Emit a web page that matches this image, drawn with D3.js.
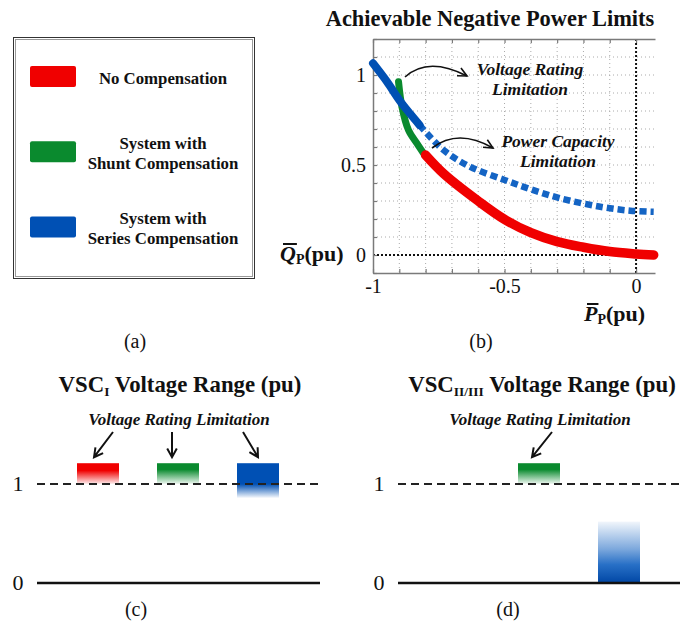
<!DOCTYPE html>
<meta charset="utf-8">
<head>
<script src="https://d3js.org/d3.v7.min.js"></script>
<style>
  body { margin: 0; background: #fff; }
  text { font-family: "Liberation Serif", "Times New Roman", serif; fill: #111; }
</style>
</head>
<body>
<div id="fig"></div>
<script>
// ---- values ----
var categories = ["none", "shunt", "series"];
var legendLabels = [["No Compensation"], ["System with", "Shunt Compensation"], ["System with", "Series Compensation"]];
var seriesColors = ["#f00000", "#0a8a2e", "#0050b4"];

// (b) achievable negative power limits, [P, Q] in pu
var noCompensation = [[-0.80, 0.555], [-0.73, 0.45], [-0.6, 0.30], [-0.5, 0.198], [-0.4, 0.124],
    [-0.3, 0.074], [-0.2, 0.043], [-0.1, 0.019], [0, 0.006], [0.067, 0.0]];
var shuntCompensation = [[-0.903, 0.963], [-0.89, 0.824], [-0.865, 0.694], [-0.833, 0.62], [-0.808, 0.565]];
var seriesVoltageLimit = [[-1.0, 1.065], [-0.947, 0.963], [-0.90, 0.861], [-0.858, 0.783], [-0.823, 0.722]];
var seriesPowerLimit = [[-0.823, 0.722], [-0.732, 0.583], [-0.63, 0.49], [-0.5, 0.417], [-0.4, 0.365],
    [-0.288, 0.315], [-0.136, 0.268], [-0.022, 0.246], [0.067, 0.240]];
var xTickLabels = [-1, -0.5, 0];
var yTickLabels = [0, 0.5, 1];

// (c), (d) voltage ranges [low, high] in pu, one per category
var vscIRange = [[1.0, 1.21], [1.0, 1.21], [0.86, 1.21]];
var vscIIRange = [null, [1.0, 1.21], [0, 0.62]];
var rangeTicks = [0, 1];

var svg = d3.select("#fig").append("svg")
    .attr("width", 680)
    .attr("height", 622);
var defs = svg.append("defs");

// vertical fades for the range bars
function fade(id, color, stops) {
    var g = defs.append("linearGradient").attr("id", id)
        .attr("x1", 0).attr("y1", 0).attr("x2", 0).attr("y2", 1);
    stops.forEach(function (s) {
        g.append("stop").attr("offset", s[0]).attr("stop-color", s[2] || color).attr("stop-opacity", s[1]);
    });
}
fade("fadeR", seriesColors[0], [[0, 1], [0.35, 1], [1, 0.06]]);
fade("fadeG", seriesColors[1], [[0, 1], [0.3, 1], [1, 0.06]]);
fade("fadeB", seriesColors[2], [[0, 1], [0.6, 1], [1, 0.04]]);
fade("riseB", "#1060c0", [[0, 0.06], [0.45, 0.55], [0.7, 0.9], [1, 1, "#0046a4"]]);

// ---------- (a) legend ----------
var legend = svg.append("g");
legend.append("rect").attr("x", 13.5).attr("y", 37.5).attr("width", 241).attr("height", 241)
    .attr("fill", "none").attr("stroke", "#333");
legend.append("rect").attr("x", 15.5).attr("y", 39.5).attr("width", 237).attr("height", 237)
    .attr("fill", "none").attr("stroke", "#999");

var ly = d3.scalePoint().domain(categories).range([76.5, 227]);
categories.forEach(function (c, i) {
    legend.append("rect")
        .attr("x", 30).attr("y", ly(c) - 10.5)
        .attr("width", 46).attr("height", 21).attr("rx", 2)
        .attr("fill", seriesColors[i]);
    var lines = legendLabels[i];
    var t = legend.append("text")
        .attr("text-anchor", "middle")
        .attr("font-weight", "bold")
        .attr("font-size", 16.8);
    lines.forEach(function (s, j) {
        t.append("tspan")
            .attr("x", 163)
            .attr("y", ly(c) + 7.5 - 10.5 * (lines.length - 1) + 20 * j)
            .text(s);
    });
});

// ---------- (b) power limits ----------
var x = d3.scaleLinear().domain([-1, 0.072]).range([373, 655]);
var y = d3.scaleLinear().domain([-0.1, 1.2]).range([273, 39]);
var tenths = function (a, b) { return d3.range(a, b + 1).map(function (d) { return d / 10; }); };

svg.append("text")
    .attr("x", 490).attr("y", 26)
    .attr("text-anchor", "middle")
    .attr("font-weight", "bold")
    .attr("font-size", 22.4)
    .text("Achievable Negative Power Limits");

var grid = svg.append("g");
grid.selectAll(".vg").data(tenths(-9, 0)).enter().append("line")
    .attr("x1", function (d) { return x(d); }).attr("x2", function (d) { return x(d); })
    .attr("y1", y(1.2)).attr("y2", y(-0.1))
    .attr("stroke", function (d) { return d === 0 ? "#111" : "#aaa"; })
    .attr("stroke-width", function (d) { return d === 0 ? 2 : 1; })
    .attr("stroke-dasharray", function (d) { return d === 0 ? "2,2" : "1,3"; });
grid.selectAll(".hg").data(tenths(0, 11)).enter().append("line")
    .attr("x1", x(-1)).attr("x2", x(0.072))
    .attr("y1", function (d) { return y(d); }).attr("y2", function (d) { return y(d); })
    .attr("stroke", function (d) { return d === 0 ? "#111" : "#aaa"; })
    .attr("stroke-width", function (d) { return d === 0 ? 2 : 1; })
    .attr("stroke-dasharray", function (d) { return d === 0 ? "2,2" : "1,3"; });

// axes: minor inward ticks every 0.1, labels only on a few
function styleAxis(g) {
    g.select(".domain").attr("stroke", "#7a7a7a").attr("stroke-width", 1.5);
    g.selectAll(".tick line").attr("stroke", "#7a7a7a").attr("stroke-width", 1.2);
    g.selectAll(".tick text").attr("font-family", "Liberation Serif").attr("font-size", 20).attr("fill", "#222");
}
var labelIf = function (list) {
    return function (d) { return list.some(function (v) { return Math.abs(v - d) < 1e-6; }) ? String(+d.toFixed(1)) : ""; };
};
svg.append("g").attr("transform", "translate(0," + y(-0.1) + ")")
    .call(d3.axisBottom(x).tickValues(tenths(-10, 0)).tickSizeInner(-4).tickSizeOuter(0)
        .tickPadding(6).tickFormat(labelIf(xTickLabels)))
    .call(styleAxis);
svg.append("g").attr("transform", "translate(0," + y(1.2) + ")")
    .call(d3.axisTop(x).tickValues(tenths(-10, 0)).tickSizeInner(-4).tickSizeOuter(0).tickFormat(""))
    .call(styleAxis);
svg.append("g").attr("transform", "translate(" + x(-1) + ",0)")
    .call(d3.axisLeft(y).tickValues(tenths(-1, 12)).tickSizeInner(-4).tickSizeOuter(0)
        .tickPadding(7).tickFormat(labelIf(yTickLabels)))
    .call(styleAxis);

// curves
var line = d3.line()
    .x(function (d) { return x(d[0]); })
    .y(function (d) { return y(d[1]); })
    .curve(d3.curveCatmullRom.alpha(0.5));
var curves = svg.append("g").attr("fill", "none");
curves.append("path").datum(shuntCompensation).attr("d", line)
    .attr("stroke", seriesColors[1]).attr("stroke-width", 7).attr("stroke-linecap", "round");
curves.append("path").datum(noCompensation).attr("d", line)
    .attr("stroke", seriesColors[0]).attr("stroke-width", 9.5).attr("stroke-linecap", "round");
curves.append("path").datum(seriesPowerLimit).attr("d", line)
    .attr("stroke", "#1464c4").attr("stroke-width", 6.5).attr("stroke-dasharray", "7,4");
curves.append("path").datum(seriesVoltageLimit).attr("d", line)
    .attr("stroke", seriesColors[2]).attr("stroke-width", 8).attr("stroke-linecap", "round");

// curved call-out arrows
function curvedArrow(p0, p1, p2) {
    var g = svg.append("g").attr("fill", "none").attr("stroke", "#111").attr("stroke-width", 1.6);
    g.append("path").attr("d", "M" + p0 + "Q" + p1 + " " + p2);
    var a = Math.atan2(p2[1] - p1[1], p2[0] - p1[0]);
    var h = 10, s = 0.45;
    g.append("path").attr("d",
        "M" + [p2[0] - h * Math.cos(a - s), p2[1] - h * Math.sin(a - s)] +
        "L" + p2 +
        "L" + [p2[0] - h * Math.cos(a + s), p2[1] - h * Math.sin(a + s)]);
}
curvedArrow([405, 77], [428, 56], [467, 76]);
curvedArrow([432, 148], [458, 128], [493, 148]);

function note(cx, y0, lines, size) {
    var t = svg.append("text").attr("text-anchor", "middle")
        .attr("font-weight", "bold").attr("font-style", "italic").attr("font-size", size);
    lines.forEach(function (s, j) {
        t.append("tspan").attr("x", cx).attr("y", y0 + 19.5 * j).text(s);
    });
}
note(530, 75, ["Voltage Rating", "Limitation"], 17.5);
note(558, 147, ["Power Capacity", "Limitation"], 17.5);

// axis titles with an overbar on the letter
function barLabel(x0, y0, letter, sub) {
    var t = svg.append("text").attr("x", x0).attr("y", y0)
        .attr("font-weight", "bold").attr("font-size", 22);
    t.append("tspan").attr("font-style", "italic").text(letter);
    t.append("tspan").attr("font-size", 14).attr("dy", 3).text(sub);
    t.append("tspan").attr("dy", -3).text("(pu)");
    var r = t.node().getExtentOfChar(0);
    svg.append("line")
        .attr("x1", r.x + 3).attr("x2", r.x + r.width + 1)
        .attr("y1", r.y + 3).attr("y2", r.y + 3)
        .attr("stroke", "#111").attr("stroke-width", 2);
}
barLabel(280, 261, "Q", "P");
barLabel(584, 321, "P", "P");

// ---------- (c), (d) voltage ranges ----------
var vy = d3.scaleLinear().domain([0, 1]).range([583, 484]);
var vx = d3.scalePoint().domain(categories).range([98, 258]);
var barW = 42;

function rangePanel(dx, ranges, fills, sub, arrows) {
    var g = svg.append("g").attr("transform", "translate(" + dx + ",0)");
    var t = g.append("text").attr("x", 180 + (dx ? 1 : 0)).attr("y", 392)
        .attr("text-anchor", "middle").attr("font-weight", "bold").attr("font-size", 22.8);
    t.append("tspan").text("VSC");
    t.append("tspan").attr("font-size", 13.5).attr("dy", 4).text(sub);
    t.append("tspan").attr("dy", -4).text(" Voltage Range (pu)");

    g.selectAll(".bar").data(ranges).enter()
        .filter(function (d) { return d; })
        .append("rect")
        .attr("x", function (d) { return vx(categories[ranges.indexOf(d)]) - barW / 2; })
        .attr("y", function (d) { return vy(d[1]); })
        .attr("width", barW)
        .attr("height", function (d) { return vy(d[0]) - vy(d[1]); })
        .attr("fill", function (d) { return "url(#" + fills[ranges.indexOf(d)] + ")"; });

    g.append("line").attr("x1", 37).attr("x2", 320).attr("y1", vy(1)).attr("y2", vy(1))
        .attr("stroke", "#222").attr("stroke-width", 2).attr("stroke-dasharray", "8,5");
    g.append("line").attr("x1", 37).attr("x2", 320).attr("y1", vy(0)).attr("y2", vy(0))
        .attr("stroke", "#111").attr("stroke-width", 2.5);
    g.selectAll(".tk").data(rangeTicks).enter().append("text")
        .attr("x", 18).attr("y", function (d) { return vy(d); }).attr("dy", "0.33em")
        .attr("text-anchor", "middle").attr("font-size", 22).attr("fill", "#333")
        .text(function (d) { return d; });

    g.append("text").attr("x", 179).attr("y", 425).attr("text-anchor", "middle")
        .attr("font-weight", "bold").attr("font-style", "italic").attr("font-size", 17)
        .text("Voltage Rating Limitation");

    // straight arrows from the note to the bar tops
    arrows.forEach(function (a) {
        var cx = vx(a[0]);
        var p0 = [cx + a[1], 432], p1 = [cx + a[2], vy(1.21) - 6];
        var ang = Math.atan2(p1[1] - p0[1], p1[0] - p0[0]), h = 10, s = 0.5;
        g.append("path").attr("fill", "none").attr("stroke", "#111").attr("stroke-width", 2)
            .attr("d", "M" + p0 + "L" + p1 +
                "M" + [p1[0] - h * Math.cos(ang - s), p1[1] - h * Math.sin(ang - s)] +
                "L" + p1 +
                "L" + [p1[0] - h * Math.cos(ang + s), p1[1] - h * Math.sin(ang + s)]);
    });
    return g;
}
rangePanel(0, vscIRange, ["fadeR", "fadeG", "fadeB"], "I",
    [["none", 15, -4], ["shunt", -6, -6], ["series", -15, 0]]);
rangePanel(361, vscIIRange, [null, "fadeG", "riseB"], "II/III",
    [["shunt", 13, -7]]);

// captions
[["(a)", 135, 348], ["(b)", 481, 348], ["(c)", 136, 616], ["(d)", 508, 616]].forEach(function (c) {
    svg.append("text").attr("x", c[1]).attr("y", c[2]).attr("text-anchor", "middle")
        .attr("font-size", 20).text(c[0]);
});
</script>
</body>
